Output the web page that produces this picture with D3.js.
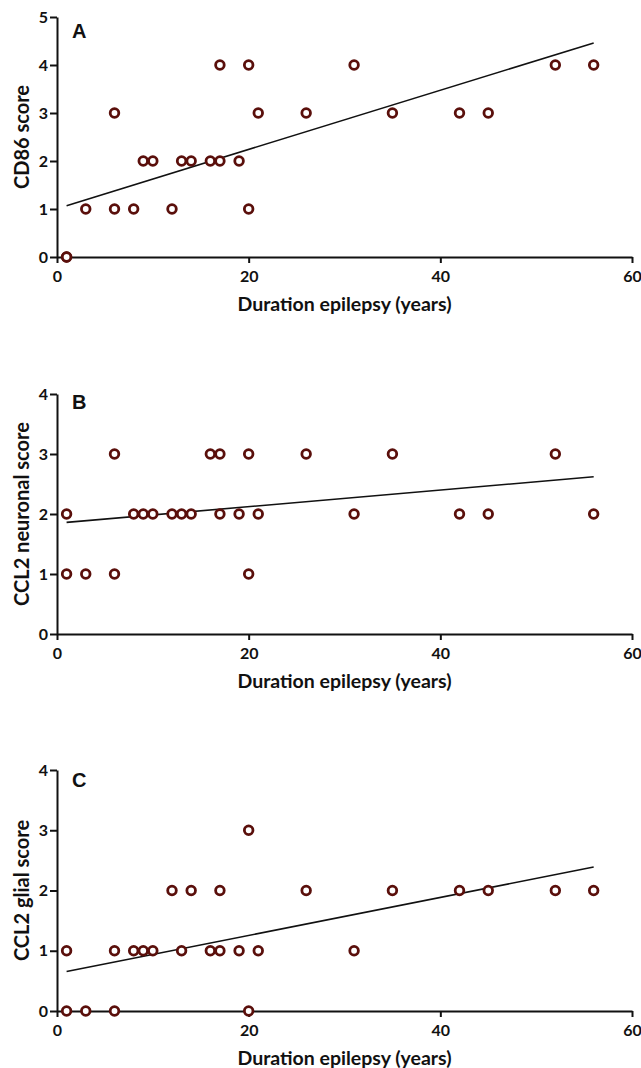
<!DOCTYPE html>
<html>
<head>
<meta charset="utf-8">
<script src="https://cdn.jsdelivr.net/npm/d3@7"></script>
<style>
    html, body { margin: 0; padding: 0; background: #fff; }
    .axis path, .axis line { stroke: #111; stroke-width: 2; }
    .axis text { font-family: Lato, "Open Sans", sans-serif; font-weight: bold; font-size: 16px; fill: #111; }
    .title { font-family: Lato, "Open Sans", sans-serif; font-weight: bold; fill: #111; }
    .letter { font-family: "Liberation Sans", Arial, sans-serif; font-weight: bold; font-size: 20px; fill: #111; }
</style>
</head>
<body>
<div id="chart"></div>
<script>
// Duration of epilepsy vs. score, three panels
const durations = [1, 1, 3, 6, 6, 8, 9, 10, 12, 13, 14, 16, 17, 17, 19, 20, 20, 21, 26, 31, 35, 42, 45, 52, 56];
const cd86Scores = [0, 0, 1, 3, 1, 1, 2, 2, 1, 2, 2, 2, 4, 2, 2, 4, 1, 3, 3, 4, 3, 3, 3, 4, 4];
const ccl2NeuronalScores = [2, 1, 1, 3, 1, 2, 2, 2, 2, 2, 2, 3, 3, 2, 2, 3, 1, 2, 3, 2, 3, 2, 2, 3, 2];
const ccl2GlialScores = [1, 0, 0, 1, 0, 1, 1, 1, 2, 1, 2, 1, 2, 1, 1, 3, 0, 1, 2, 1, 2, 2, 2, 2, 2];

// fitted lines (ends at x = 1 and x = 56)
const fitX = [1, 56];
const fitCD86 = [1.07, 4.46];
const fitCCL2Neuronal = [1.86, 2.62];
const fitCCL2Glial = [0.655, 2.39];

const xTicks = [0, 20, 40, 60];
const xTitle = "Duration epilepsy (years)";

const W = 641, H = 1068;
const svg = d3.select("#chart").append("svg").attr("width", W).attr("height", H);

const panels = [
    { letter: "A", yLabel: "CD86 score", scores: cd86Scores, fit: fitCD86, yMax: 5, top: 17, bottom: 257, letterDy: 21 },
    { letter: "B", yLabel: "CCL2 neuronal score", scores: ccl2NeuronalScores, fit: fitCCL2Neuronal, yMax: 4, top: 394, bottom: 634, letterDy: 15 },
    { letter: "C", yLabel: "CCL2 glial score", scores: ccl2GlialScores, fit: fitCCL2Glial, yMax: 4, top: 770, bottom: 1011, letterDy: 17 }
];

const x = d3.scaleLinear().domain([0, 60]).range([57, 632]);

panels.forEach(p => {
    const y = d3.scaleLinear().domain([0, p.yMax]).range([p.bottom, p.top]);
    const g = svg.append("g");

    g.append("g").attr("class", "axis")
        .attr("transform", `translate(0,${p.bottom})`)
        .call(d3.axisBottom(x).tickValues(xTicks).tickSize(6).tickSizeOuter(0).tickPadding(8));

    g.append("g").attr("class", "axis")
        .attr("transform", `translate(${x(0)},0)`)
        .call(d3.axisLeft(y).ticks(p.yMax).tickFormat(d3.format("d")).tickSize(7).tickSizeOuter(0).tickPadding(2));

    g.append("text").attr("class", "title")
        .attr("x", (x(0) + x(60)) / 2).attr("y", p.bottom + 54)
        .attr("text-anchor", "middle").style("font-size", "19.5px")
        .text(xTitle);

    g.append("text").attr("class", "title")
        .attr("transform", `translate(29,${(p.top + p.bottom) / 2}) rotate(-90)`)
        .attr("text-anchor", "middle").style("font-size", "20px")
        .text(p.yLabel);

    g.append("text").attr("class", "letter")
        .attr("x", 72).attr("y", p.top + p.letterDy)
        .text(p.letter);

    const line = d3.line().x(d => x(d[0])).y(d => y(d[1]));
    g.append("path")
        .datum(fitX.map((v, i) => [v, p.fit[i]]))
        .attr("d", line)
        .attr("fill", "none").attr("stroke", "#111").attr("stroke-width", 1.6);

    g.selectAll("circle")
        .data(durations.map((d, i) => ({ dur: d, score: p.scores[i] })))
        .join("circle")
        .attr("cx", d => x(d.dur))
        .attr("cy", d => y(d.score))
        .attr("r", 4.3)
        .attr("fill", "#fff")
        .attr("stroke", "#5a0f0b")
        .attr("stroke-width", 2.8);
});
</script>
</body>
</html>
